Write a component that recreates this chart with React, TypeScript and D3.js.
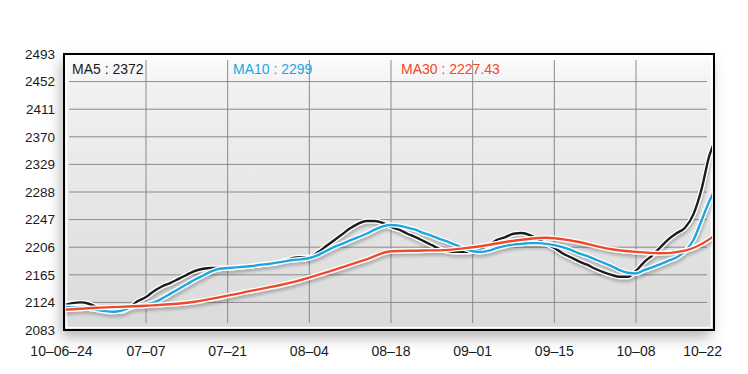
import React from 'react';
import * as d3 from 'd3';

const W = 748;
const H = 374;

// trading-day index: -1 = 06-23, 0 = 06-24 ... 79 = 10-22
const dayIdx = d3.range(-1, 80);

const ma5 = [
  2120, 2123, 2124, 2122, 2117, 2113, 2111, 2111, 2117, 2126,
  2132, 2141, 2148, 2153, 2159, 2165, 2171, 2174, 2175, 2175,
  2175, 2176, 2177, 2178, 2180, 2181, 2183, 2186, 2190, 2191,
  2191, 2198, 2207, 2216, 2225, 2234, 2241, 2245, 2245, 2242,
  2236, 2232, 2226, 2221, 2215, 2209, 2203, 2200, 2199, 2199,
  2200, 2204, 2209, 2217, 2221, 2226, 2227, 2224, 2218, 2211,
  2205, 2197, 2191, 2185, 2180, 2174, 2169, 2165, 2162, 2162,
  2171, 2184, 2194, 2206, 2218, 2227, 2235, 2254, 2291, 2343,
  2372,
];

const ma10 = [
  2117, 2117, 2116, 2115, 2113, 2111, 2110, 2112, 2116, 2119,
  2121, 2124, 2130, 2137, 2144, 2151, 2158, 2164, 2170, 2174,
  2175, 2176, 2177, 2178, 2180, 2181, 2183, 2185, 2187, 2188,
  2190, 2194, 2200, 2206, 2211, 2216, 2221, 2226, 2232, 2237,
  2239, 2238, 2235, 2232, 2227, 2223, 2218, 2214, 2209, 2204,
  2200, 2199, 2201, 2205, 2208, 2210, 2211, 2212, 2212, 2211,
  2209, 2206, 2202, 2197, 2193, 2188, 2183, 2178, 2172, 2168,
  2167, 2172, 2176, 2181, 2186, 2191, 2200, 2216, 2245, 2275,
  2299,
];

const ma30Idx = [-1, 3, 9, 15, 21, 27, 33, 36, 39, 43, 46, 49, 55, 58, 61, 66, 69, 72, 75, 78, 79];
const ma30 = [2113, 2116, 2119, 2125, 2139, 2154, 2176, 2188, 2200, 2201, 2202, 2206, 2217, 2220, 2216, 2203, 2199, 2197, 2201, 2218, 2227];

const yTicks = [2083, 2124, 2165, 2206, 2247, 2288, 2329, 2370, 2411, 2452, 2493];
const xTickIdx = [0, 9, 19, 29, 39, 49, 59, 69, 79];
const xTickLabels = ['10–06–24', '07–07', '07–21', '08–04', '08–18', '09–01', '09–15', '10–08', '10–22'];

const legend = [
  { text: 'MA5 : 2372', color: '#1a1a1a' },
  { text: 'MA10 : 2299', color: '#1ea6e0' },
  { text: 'MA30 : 2227.43', color: '#ee4a2a' },
];
const legendX = [72, 233, 401];

const font = 'Liberation Sans, Arial, sans-serif';

export default function App() {
  const frame = { left: 64, right: 714, top: 54, bottom: 330 };

  const x = d3.scaleLinear().domain([9, 69]).range([146, 636]);
  const y = d3.scaleLinear().domain([2083, 2493]).range([frame.bottom, frame.top]);

  const line = d3
    .line<[number, number]>()
    .x((d) => x(d[0]))
    .y((d) => y(d[1]))
    .curve(d3.curveMonotoneX);

  const series = [
    { pts: dayIdx.map((d, i) => [d, ma5[i]] as [number, number]), color: '#1a1a1a' },
    { pts: dayIdx.map((d, i) => [d, ma10[i]] as [number, number]), color: '#1ea6e0' },
    { pts: ma30Idx.map((d, i) => [d, ma30[i]] as [number, number]), color: '#ee4a2a' },
  ];

  return (
    <svg width={W} height={H} style={{ position: 'absolute', left: 0, top: 0, background: '#fff' }}>
      <defs>
        <linearGradient id="bg" x1="0" y1="0" x2="0" y2="1">
          <stop offset="0" stopColor="#fdfdfd" />
          <stop offset="0.12" stopColor="#f1f1f1" />
          <stop offset="1" stopColor="#dadada" />
        </linearGradient>
        <filter id="frameShadow" x="-10%" y="-10%" width="120%" height="130%">
          <feDropShadow dx="-3" dy="7" stdDeviation="7" floodColor="#000" floodOpacity="0.3" />
        </filter>
        <filter id="lineShadow" x="-5%" y="-10%" width="110%" height="130%">
          <feDropShadow dx="1" dy="3" stdDeviation="1.8" floodColor="#000" floodOpacity="0.22" />
        </filter>
        <clipPath id="plotClip">
          <rect x={frame.left + 2} y={frame.top + 2} width={frame.right - frame.left - 4} height={frame.bottom - frame.top - 4} />
        </clipPath>
      </defs>

      {/* frame */}
      <rect
        x={frame.left}
        y={frame.top}
        width={frame.right - frame.left}
        height={frame.bottom - frame.top}
        fill="url(#bg)"
        filter="url(#frameShadow)"
      />
      <rect
        x={frame.left + 2.5}
        y={frame.top + 2.5}
        width={frame.right - frame.left - 5}
        height={frame.bottom - frame.top - 5}
        fill="none"
        stroke="#fff"
        strokeWidth={1.5}
      />

      {/* grid */}
      {yTicks.slice(1, -1).map((t) => (
        <line key={t} x1={69} x2={707} y1={y(t)} y2={y(t)} stroke="#8a8a8a" strokeWidth={1} />
      ))}
      {xTickIdx.slice(1, -1).map((t) => (
        <line key={t} x1={x(t)} x2={x(t)} y1={60} y2={323} stroke="#8a8a8a" strokeWidth={1} />
      ))}

      {/* lines */}
      <g clipPath="url(#plotClip)">
        <g filter="url(#lineShadow)">
          {series.map((s, i) => (
            <g key={i}>
              <path d={line(s.pts) ?? ''} fill="none" stroke="#fff" strokeWidth={5} strokeLinejoin="round" />
              <path d={line(s.pts) ?? ''} fill="none" stroke={s.color} strokeWidth={2.4} strokeLinejoin="round" />
            </g>
          ))}
        </g>
      </g>

      <rect
        x={frame.left}
        y={frame.top}
        width={frame.right - frame.left}
        height={frame.bottom - frame.top}
        fill="none"
        stroke="#000"
        strokeWidth={2}
      />

      {/* legend */}
      {legend.map((l, i) => (
        <text key={l.text} x={legendX[i]} y={74} fontFamily={font} fontSize={14} fill={l.color}>
          {l.text}
        </text>
      ))}

      {/* y axis labels */}
      {yTicks.map((t) => (
        <text key={t} x={55} y={y(t)} dy="0.36em" textAnchor="end" fontFamily={font} fontSize={13.5} fill="#1a1a1a">
          {t}
        </text>
      ))}

      {/* x axis labels */}
      {xTickIdx.map((t, i) => (
        <text
          key={t}
          x={x(t)}
          dx={i === 0 ? -11 : i === xTickIdx.length - 1 ? -15 : 0}
          y={356}
          textAnchor="middle"
          fontFamily={font}
          fontSize={14}
          fill="#1a1a1a"
        >
          {xTickLabels[i]}
        </text>
      ))}
    </svg>
  );
}
